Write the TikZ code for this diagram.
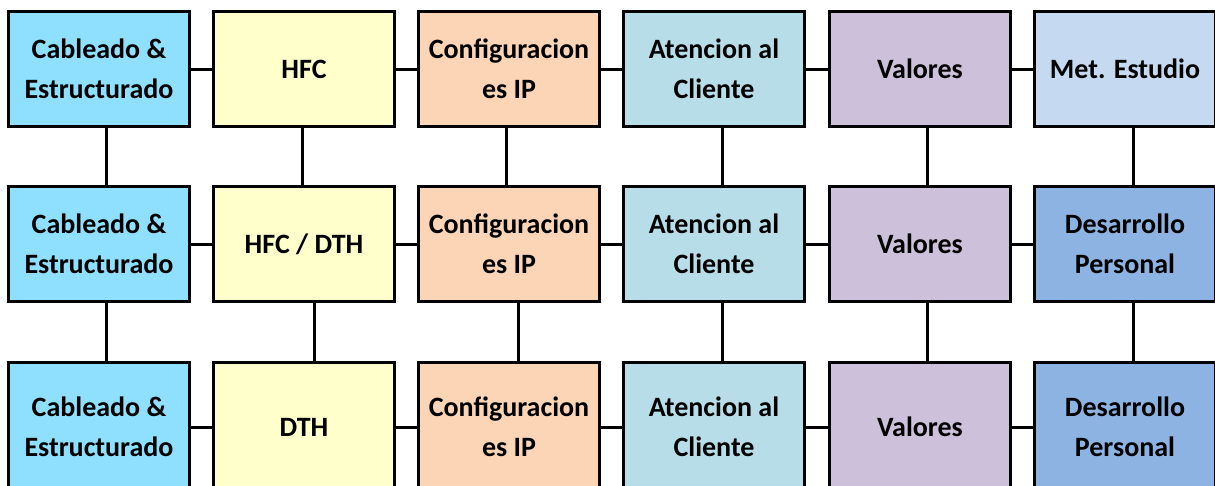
\documentclass[tikz,border=0pt]{standalone}
\usepackage{fontspec}
\setmainfont{Carlito}
\definecolor{cA}{HTML}{8EE0FE}
\definecolor{cB}{HTML}{FFFFCC}
\definecolor{cC}{HTML}{FBD5B5}
\definecolor{cD}{HTML}{B7DEE8}
\definecolor{cE}{HTML}{CCC0DA}
\definecolor{cF}{HTML}{C5D9F1}
\definecolor{cG}{HTML}{8DB3E2}
\tikzset{
  box/.style={draw=black, line width=3pt, anchor=north west, minimum width=181pt,
    outer sep=0pt, align=center, inner sep=0pt, font=\fontsize{28}{40}\selectfont\bfseries},
  rowa/.style={minimum height=115pt},
  rowc/.style={minimum height=129pt},
  link/.style={draw=black, line width=3pt}
}
\begin{document}
\begin{tikzpicture}[x=1pt,y=-1pt]
\useasboundingbox (0,0) rectangle (1215,485);
\clip (0,0) rectangle (1215,485);
% row 1
\node[box,rowa,fill=cA] (a1) at (8.5,11.5) {Cableado \&\\Estructurado};
\node[box,rowa,fill=cB] (b1) at (213.5,11.5) {HFC};
\node[box,rowa,fill=cC] (c1) at (418.5,11.5) {Configuracion\\es IP};
\node[box,rowa,fill=cD] (d1) at (623.5,11.5) {Atencion al\\Cliente};
\node[box,rowa,fill=cE] (e1) at (829.5,11.5) {Valores};
\node[box,rowa,fill=cF] (f1) at (1034.5,11.5) {Met. Estudio};
% row 2
\node[box,rowa,fill=cA] (a2) at (8.5,186.5) {Cableado \&\\Estructurado};
\node[box,rowa,fill=cB] (b2) at (213.5,186.5) {HFC / DTH};
\node[box,rowa,fill=cC] (c2) at (418.5,186.5) {Configuracion\\es IP};
\node[box,rowa,fill=cD] (d2) at (623.5,186.5) {Atencion al\\Cliente};
\node[box,rowa,fill=cE] (e2) at (829.5,186.5) {Valores};
\node[box,rowa,fill=cG] (f2) at (1034.5,186.5) {Desarrollo\\Personal};
% row 3
\node[box,rowc,fill=cA] (a3) at (8.5,362.5) {Cableado \&\\Estructurado};
\node[box,rowc,fill=cB] (b3) at (213.5,362.5) {DTH};
\node[box,rowc,fill=cC] (c3) at (418.5,362.5) {Configuracion\\es IP};
\node[box,rowc,fill=cD] (d3) at (623.5,362.5) {Atencion al\\Cliente};
\node[box,rowc,fill=cE] (e3) at (829.5,362.5) {Valores};
\node[box,rowc,fill=cG] (f3) at (1034.5,362.5) {Desarrollo\\Personal};
% horizontal links
\foreach \r in {1,2,3}{
  \draw[link] (a\r.east) -- (b\r.west);
  \draw[link] (b\r.east) -- (c\r.west);
  \draw[link] (c\r.east) -- (d\r.west);
  \draw[link] (d\r.east) -- (e\r.west);
  \draw[link] (e\r.east) -- (f\r.west);
}
% vertical links
\draw[link] ([xshift=7.5pt]a1.south) -- ([xshift=7.5pt]a2.north);
\draw[link] ([xshift=7.5pt]a2.south) -- ([xshift=7.5pt]a3.north);
\draw[link] ([xshift=-2pt]b1.south) -- ([xshift=-2pt]b2.north);
\draw[link] ([xshift=10pt]b2.south) -- ([xshift=10pt]b3.north);
\draw[link] ([xshift=-2.5pt]c1.south) -- ([xshift=-2.5pt]c2.north);
\draw[link] ([xshift=9.5pt]c2.south) -- ([xshift=9.5pt]c3.north);
\draw[link] ([xshift=8pt]d1.south) -- ([xshift=8pt]d2.north);
\draw[link] ([xshift=8pt]d2.south) -- ([xshift=8pt]d3.north);
\draw[link] ([xshift=7pt]e1.south) -- ([xshift=7pt]e2.north);
\draw[link] ([xshift=7pt]e2.south) -- ([xshift=7pt]e3.north);
\draw[link] ([xshift=8pt]f1.south) -- ([xshift=8pt]f2.north);
\draw[link] ([xshift=8pt]f2.south) -- ([xshift=8pt]f3.north);
\end{tikzpicture}
\end{document}
